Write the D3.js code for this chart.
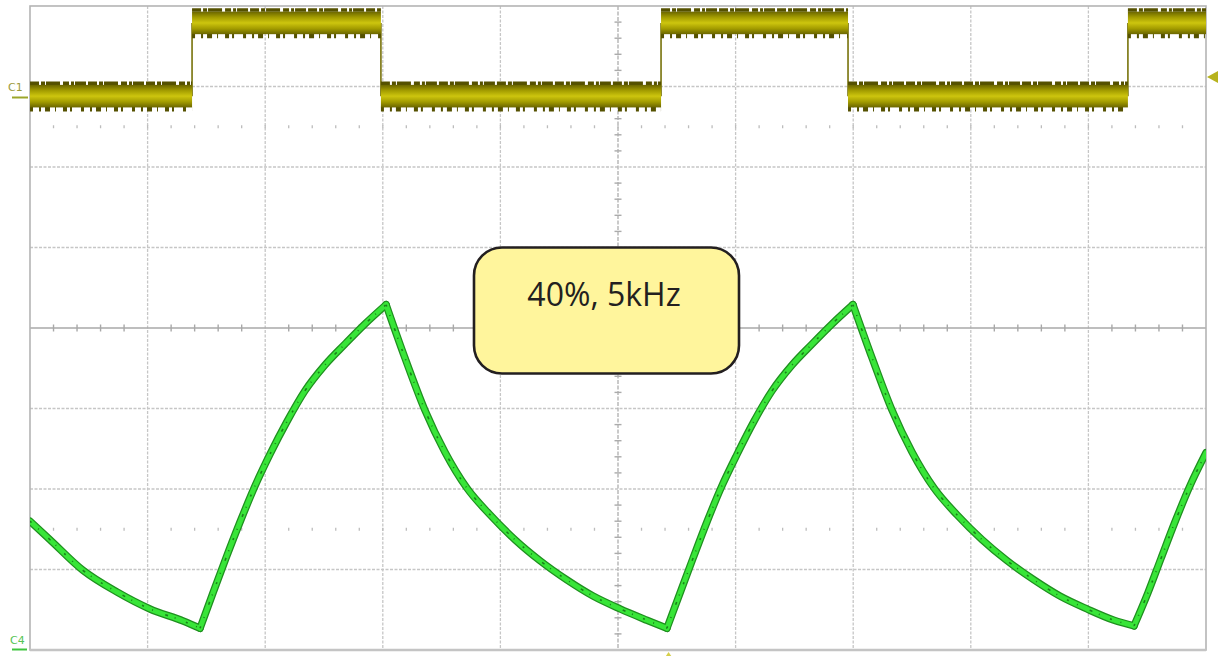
<!DOCTYPE html>
<html><head><meta charset="utf-8">
<script src="https://cdn.jsdelivr.net/npm/d3@7"></script>
<style>html,body{margin:0;padding:0;background:#fff}svg{display:block}</style>
</head><body>
<svg id="chart" width="1218" height="656"></svg>
<script>
// ---- data (time in µs, amplitude in screen divisions) ----
const gridTimes = [0, 50, 100, 150, 200, 250, 300, 350, 400, 450, 500];
const gridDivs = [-4, -3, -2, -1, 0, 1, 2, 3, 4];
const cursorRows = [2.5, -2.5];

// C1: PWM square wave — edge times and level of each segment
const c1EdgeTime = [0, 68.9, 149.2, 268.3, 347.8, 466.8, 500];
const c1Level = [2.88, 3.79, 2.88, 3.79, 2.88, 3.79];

// C4: inductor current
const c4Time = [0, 8.5, 22.5, 37.0, 51.0, 65.1, 72.3,
  77.8, 83.3, 89.3, 95.7, 102.0, 109.3, 116.9, 125.4, 133.9, 142.4, 151.4,
  159.4, 167.9, 176.4, 185.8, 195.6, 206.2, 216.8, 228.3, 239.4, 250.9, 262.3, 270.8,
  276.4, 281.9, 287.8, 294.2, 300.6, 307.8, 315.5, 324.0, 332.5, 341.0, 349.9,
  358.0, 366.5, 375.0, 384.4, 394.1, 404.8, 415.4, 426.9, 437.9, 449.4, 460.9, 469.4,
  475.3, 480.9, 486.8, 493.2, 500.0];
const c4Value = [-2.40, -2.63, -3.01, -3.28, -3.49, -3.64, -3.73,
  -3.29, -2.86, -2.41, -1.96, -1.57, -1.16, -0.78, -0.46, -0.20, 0.05, 0.29,
  -0.37, -1.02, -1.54, -1.99, -2.32, -2.63, -2.89, -3.13, -3.33, -3.49, -3.63, -3.73,
  -3.29, -2.86, -2.41, -1.96, -1.57, -1.16, -0.78, -0.46, -0.20, 0.05, 0.29,
  -0.37, -1.02, -1.54, -1.99, -2.32, -2.63, -2.89, -3.13, -3.33, -3.49, -3.63, -3.70,
  -3.29, -2.86, -2.41, -1.96, -1.55];

const channelLabels = ["C1", "C4"];
const annotationText = "40%, 5kHz";

// ---- drawing ----
const svg = d3.select("#chart");
const L = 30, R = 1206, T = 6, B = 650;
const x = d3.scaleLinear().domain([0, 500]).range([L, R]);
const y = d3.scaleLinear().domain([-4, 4]).range([B, T]);

const defs = svg.append("defs");
defs.append("clipPath").attr("id", "plot").append("rect")
  .attr("x", L).attr("y", T - 2).attr("width", R - L).attr("height", B - T + 2);
const grad = defs.append("linearGradient").attr("id", "band").attr("x1", 0).attr("x2", 0).attr("y1", 0).attr("y2", 1);
[["0%", "#6a6500"], ["25%", "#a39c00"], ["50%", "#cdc50e"], ["75%", "#a39c00"], ["100%", "#6a6500"]]
  .forEach(([o, c]) => grad.append("stop").attr("offset", o).attr("stop-color", c));

// grid
const g = svg.append("g");
const gridColor = "#c6c6c6";
g.selectAll(".vg").data(gridTimes.filter(t => t !== 250 && t > 0 && t < 500)).join("line")
  .attr("x1", d => x(d)).attr("x2", d => x(d)).attr("y1", T).attr("y2", B)
  .attr("stroke", gridColor).attr("stroke-width", 1.3).attr("stroke-dasharray", "3,1.5");
g.selectAll(".hg").data(gridDivs.filter(d => d !== 0 && Math.abs(d) < 4)).join("line")
  .attr("x1", L).attr("x2", R).attr("y1", d => y(d)).attr("y2", d => y(d))
  .attr("stroke", gridColor).attr("stroke-width", 1.3).attr("stroke-dasharray", "3,1.5");
// center axes
g.append("line").attr("x1", L).attr("x2", R).attr("y1", y(0)).attr("y2", y(0))
  .attr("stroke", "#a8a8a8").attr("stroke-width", 1.4);
g.append("line").attr("x1", x(250)).attr("x2", x(250)).attr("y1", T).attr("y2", B)
  .attr("stroke", "#b4b4b4").attr("stroke-width", 1.4).attr("stroke-dasharray", "4,1.5");
const minorT = d3.range(10, 500, 10).filter(t => t % 50 !== 0);
g.selectAll(".mt").data(minorT).join("line")
  .attr("x1", d => x(d)).attr("x2", d => x(d)).attr("y1", y(0) - 3.5).attr("y2", y(0) + 3.5)
  .attr("stroke", "#a8a8a8").attr("stroke-width", 1.4);
const minorV = d3.range(-3.8, 4, 0.2).map(v => +v.toFixed(1)).filter(v => Math.abs(v % 1) > 0.01);
g.selectAll(".mv").data(minorV).join("line")
  .attr("x1", x(250) - 3.5).attr("x2", x(250) + 3.5).attr("y1", d => y(d)).attr("y2", d => y(d))
  .attr("stroke", "#ababab").attr("stroke-width", 1.4);
// cursor tick rows
cursorRows.forEach(r => {
  g.selectAll(null).data(d3.range(10, 500, 10)).join("line")
    .attr("x1", d => x(d)).attr("x2", d => x(d)).attr("y1", y(r) - 1.5).attr("y2", y(r) + 1.5)
    .attr("stroke", "#bcbcbc").attr("stroke-width", 1.3);
});
// frame
g.append("rect").attr("x", L).attr("y", T).attr("width", R - L).attr("height", B - T)
  .attr("fill", "none").attr("stroke", "#b4b4b4").attr("stroke-width", 1.6);
g.append("line").attr("x1", L).attr("x2", R).attr("y1", B).attr("y2", B).attr("stroke", "#c4c4c4").attr("stroke-width", 2.5);

// C1 square wave
const traces = svg.append("g").attr("clip-path", "url(#plot)");
const segs = c1Level.map((v, i) => ({ t0: c1EdgeTime[i], t1: c1EdgeTime[i + 1], v }));
const halfSolid = 0.14;
const c1 = traces.append("g");
c1.selectAll(".edge").data(c1EdgeTime.slice(1, -1)).join("line")
  .attr("x1", d => x(d)).attr("x2", d => x(d))
  .attr("y1", (d, i) => y(c1Level[i])).attr("y2", (d, i) => y(c1Level[i + 1]))
  .attr("stroke", "#77720a").attr("stroke-width", 1.6);
[1, -1].forEach(s => {
  c1.selectAll(null).data(segs).join("line")
    .attr("x1", d => x(d.t0)).attr("x2", d => x(d.t1))
    .attr("y1", d => y(d.v + s * (halfSolid + 0.02))).attr("y2", d => y(d.v + s * (halfSolid + 0.02)))
    .attr("stroke", "#555100").attr("stroke-width", s > 0 ? 3.5 : 5)
    .attr("stroke-dasharray", s > 0 ? "9,2,4,1,14,3,6,2,3,1,11,2" : "3,6,2,4,5,5,1,7,4,3,2,9");
});
c1.selectAll(".band").data(segs).join("rect")
  .attr("x", d => x(d.t0)).attr("width", d => x(d.t1) - x(d.t0))
  .attr("y", d => y(d.v + halfSolid)).attr("height", d => y(d.v - halfSolid) - y(d.v + halfSolid))
  .attr("fill", "url(#band)");

// C4 trace: split into monotone pieces at the peaks/troughs so corners stay sharp
const pts = c4Time.map((t, i) => [t, c4Value[i]]);
const pieces = [];
let start = 0;
for (let i = 1; i < pts.length - 1; i++) {
  const a = pts[i][1] - pts[i - 1][1], b = pts[i + 1][1] - pts[i][1];
  if (a * b < 0) { pieces.push(pts.slice(start, i + 1)); start = i; }
}
pieces.push(pts.slice(start));
const line = d3.line().x(d => x(d[0])).y(d => y(d[1])).curve(d3.curveMonotoneX);
const c4 = traces.append("g");
[["#1f8f1f", 7.5, null], ["#38e538", 5, null], ["#1b801b", 1.6, "2,9,1,13,3,7,1,11"]].forEach(([col, w, dash]) => {
  c4.selectAll(null).data(pieces).join("path").attr("d", line).attr("fill", "none")
    .attr("stroke", col).attr("stroke-width", w).attr("stroke-linejoin", "round")
    .attr("stroke-linecap", dash ? "butt" : "round").attr("stroke-dasharray", dash);
});

// channel labels
svg.append("text").text(channelLabels[0]).attr("x", 8).attr("y", 91)
  .attr("font-family", "DejaVu Sans, sans-serif").attr("font-size", 11).attr("fill", "#9c9a3a");
svg.append("line").attr("x1", 12).attr("x2", 28).attr("y1", 97.5).attr("y2", 97.5)
  .attr("stroke", "#9ca62a").attr("stroke-width", 2);
svg.append("text").text(channelLabels[1]).attr("x", 10).attr("y", 644)
  .attr("font-family", "DejaVu Sans, sans-serif").attr("font-size", 11).attr("fill", "#55c455");
svg.append("line").attr("x1", 12).attr("x2", 27).attr("y1", 649.5).attr("y2", 649.5)
  .attr("stroke", "#3fc43f").attr("stroke-width", 2);
// trigger markers
svg.append("path").attr("d", d3.line()([[1207, 77], [1218, 71], [1218, 83]])).attr("fill", "#b7b31e");
svg.append("path").attr("d", d3.line()([[x(271.5), 652], [x(271.5) - 4, 658], [x(271.5) + 4, 658]])).attr("fill", "#d6cf4a");

// annotation box
const box = svg.append("g");
box.append("rect").attr("x", 474).attr("y", 247.5).attr("width", 265).attr("height", 126)
  .attr("rx", 28).attr("ry", 28).attr("fill", "#fff59c").attr("stroke", "#231f20").attr("stroke-width", 2.6);
box.append("text").text(annotationText).attr("x", 604).attr("y", 306).attr("text-anchor", "middle")
  .attr("font-family", "Open Sans, sans-serif").attr("font-size", 32).attr("fill", "#231f20");
</script>
</body></html>
